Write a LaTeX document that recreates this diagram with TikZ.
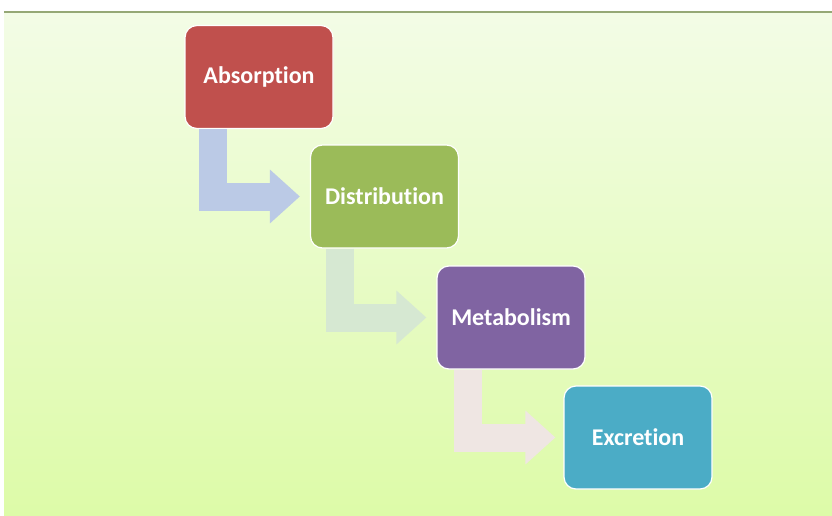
\documentclass[tikz,border=0pt]{standalone}
\usepackage{fontspec}
\setmainfont{Carlito}[Ligatures={NoCommon}]
\usepackage{tikz}
\usepackage{xcolor}
\usetikzlibrary{arrows.meta}

\definecolor{redbox}{RGB}{192,80,77}
\definecolor{greenbox}{RGB}{155,187,89}
\definecolor{purplebox}{RGB}{128,100,162}
\definecolor{tealbox}{RGB}{75,172,198}
\definecolor{bluearr}{RGB}{187,202,230}
\definecolor{greenarr}{RGB}{214,232,210}
\definecolor{pinkarr}{RGB}{239,230,227}
\definecolor{bgtop}{RGB}{243,252,230}
\definecolor{bgbot}{RGB}{221,251,168}
\definecolor{bgline}{RGB}{150,168,118}

\tikzset{
    stage/.style={rectangle,rounded corners=12pt,draw=white,line width=1.2pt,
        minimum width=148pt,minimum height=103pt,text=white,
        font=\fontsize{24}{28}\selectfont\bfseries},
    bentarrow/.style={line width=28pt,line join=miter,
        -{Triangle[length=30pt,width=52pt]}}
}

\begin{document}
\begin{tikzpicture}[x=1pt,y=-1pt]
        \useasboundingbox (0,0) rectangle (832,516);
        % Background
        \fill[white] (0,0) rectangle (832,516);
        \shade[top color=bgtop,bottom color=bgbot] (4,12) rectangle (832,516);
        \draw[bgline,line width=1.2pt] (4,12) -- (832,12);
        % Stages
        \draw (259,77) node[stage,fill=redbox](absorption) {Absorption};
        \draw (384.5,196.5) node[stage,fill=greenbox](distribution) {Distribution};
        \draw (511,317.5) node[stage,fill=purplebox](metabolism) {Metabolism};
        \draw (638,437.5) node[stage,fill=tealbox](excretion) {Excretion};
        % Bent arrows
        \draw[bentarrow,bluearr] ([xshift=29pt]absorption.south west) |- ([xshift=-10pt]distribution.west);
        \draw[bentarrow,greenarr] ([xshift=30pt]distribution.south west) |- ([xshift=-10pt]metabolism.west);
        \draw[bentarrow,pinkarr] ([xshift=32pt]metabolism.south west) |- ([xshift=-8pt]excretion.west);
    \end{tikzpicture}
\end{document}
